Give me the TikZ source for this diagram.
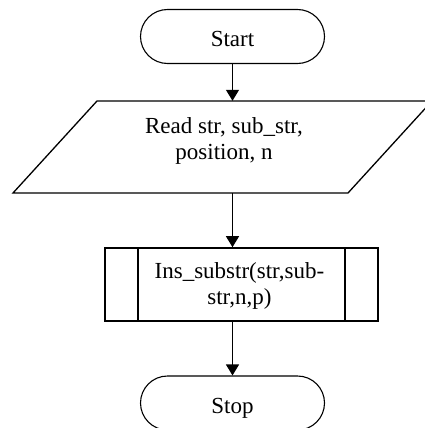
\documentclass[tikz,border=0pt]{standalone}
\usepackage{fontspec}
\setmainfont{Liberation Serif}
\usetikzlibrary{shapes.misc,arrows.meta}
\begin{document}
\begin{tikzpicture}[x=1pt,y=-1pt,
  term/.style={rounded rectangle, draw, line width=1.1pt, minimum width=184pt, minimum height=54pt, inner sep=0pt, text height=21pt, text depth=0pt},
  txt/.style={font=\fontsize{23}{26}\selectfont, align=center},
  flow/.style={line width=1.3pt, -{Triangle[length=11pt,width=13pt]}},
  proc/.style={rectangle, draw, line width=1.6pt, minimum width=273pt, minimum height=73pt, inner sep=0pt}
]
\useasboundingbox (0,0) rectangle (424,428);
\node[term, txt] (start) at (232.5,36.5) {Start};
\node[txt, minimum height=92pt, minimum width=200pt, inner sep=0pt] (read) at (224,147) {};
\node[txt, inner sep=0pt] (readtxt) at (224,141) {Read str, sub\_str,\\position, n};
\draw[line width=1.3pt] (97,101) -- (432,101) -- (348,193) -- (13,193) -- cycle;
\node[proc, txt] (ins) at (241.5,284.5) {};
\node[txt, inner sep=0pt] (instxt) at (239.5,285.5) {Ins\_substr(str,sub-\\str,n,p)};
\draw[line width=1.6pt] (138,248) -- (138,321) (345,248) -- (345,321);
\node[term, txt] (stop) at (232.5,403) {Stop};
\draw[flow] (start.south) -- (start.south |- read.north);
\draw[flow] (start.south |- read.south) -- (start.south |- ins.north);
\draw[flow] (start.south |- ins.south) -- (stop.north);
\end{tikzpicture}
\end{document}
